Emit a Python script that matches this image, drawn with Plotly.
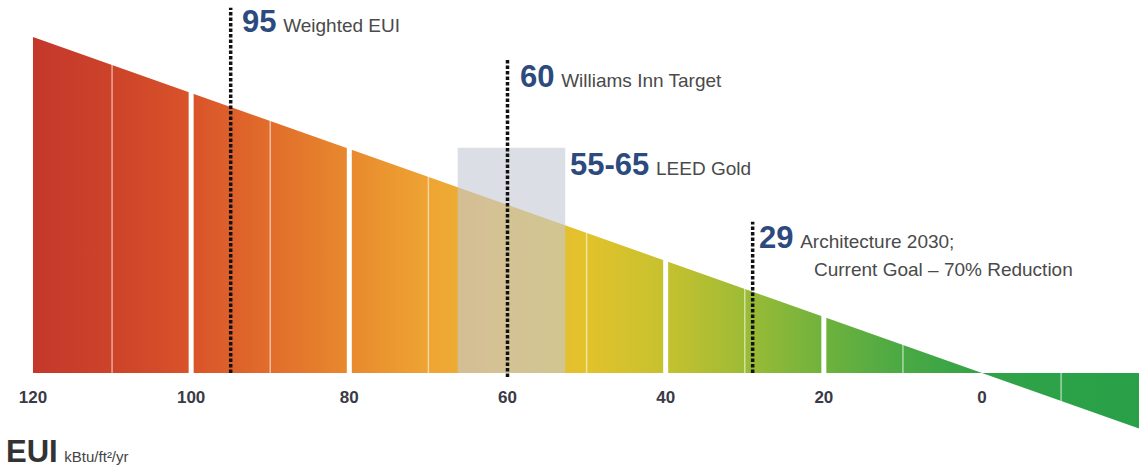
import plotly.graph_objects as go

# ---------------- data ----------------
scale_hi, scale_lo = 120, -20                 # extent of the EUI wedge
tick_values = [120, 100, 80, 60, 40, 20, 0]
tick_labels = ["120", "100", "80", "60", "40", "20", "0"]
major_breaks = [100, 80, 40, 20]              # wide white gaps
minor_breaks = [110, 90, 70, 50, 30, 10, -10]  # thin white lines

markers = [95, 60, 29]                        # dotted marker lines
marker_tops = [130.4, 111.8, 54.0]
marker_bottoms = [0, -1.5, 0]
marker_numbers = ["95", "60", "29"]
marker_texts = ["Weighted EUI", "Williams Inn Target", "Architecture 2030;"]

leed_range = [52.7, 66.3]                     # drawn band for "55-65 LEED Gold"
leed_top = 80.4

# gradient stops along the EUI axis (value, colour)
grad_vals = [120, 110, 100, 90, 80, 70, 60, 50, 40, 30, 20, 10, 0, -20]
grad_cols = ["#c4382b", "#cc4329", "#d9532a", "#e16d2b", "#e8892d", "#eea433",
             "#edb836", "#e2c22b", "#c6c12f", "#9dbb35", "#6fb23d", "#4aa944",
             "#31a347", "#28a048"]

NAVY = "#2c4a7e"
GREY = "#4a4a4a"
FONT = "Liberation Sans, Arial, sans-serif"

fig = go.Figure()

# wedge (y = EUI, so the sloped top edge is the line y = x)
span = scale_hi - scale_lo
colorscale = [[(scale_hi - v) / span, c] for v, c in zip(grad_vals, grad_cols)]
colorscale.sort(key=lambda p: p[0])
fig.add_trace(go.Scatter(
    x=[scale_hi, scale_hi, scale_lo, scale_lo, scale_hi],
    y=[0, scale_hi, scale_lo, 0, 0],
    mode="lines", line=dict(width=0), fill="toself",
    fillgradient=dict(type="horizontal", colorscale=colorscale,
                      start=scale_hi, stop=scale_lo),
    hoverinfo="skip", showlegend=False))

# white separators
for v in major_breaks:
    fig.add_trace(go.Scatter(x=[v, v], y=[min(0, v) - 0.5, v + 1.5], mode="lines",
                             line=dict(color="white", width=5),
                             hoverinfo="skip", showlegend=False))
for v in minor_breaks:
    fig.add_trace(go.Scatter(x=[v, v], y=[min(0, v) - 0.3, max(0, v) + 0.8], mode="lines",
                             line=dict(color="rgba(255,255,255,0.55)", width=1.5),
                             hoverinfo="skip", showlegend=False))

# LEED band
fig.add_trace(go.Scatter(
    x=[leed_range[0], leed_range[0], leed_range[1], leed_range[1], leed_range[0]],
    y=[0, leed_top, leed_top, 0, 0], mode="lines", line=dict(width=0),
    fill="toself", fillcolor="rgba(195,201,212,0.6)",
    hoverinfo="skip", showlegend=False))

# dotted marker lines
for v, t, b in zip(markers, marker_tops, marker_bottoms):
    fig.add_trace(go.Scatter(x=[v, v], y=[b, t], mode="lines",
                             line=dict(color="#111111", width=3.5, dash="3.5px,2px"),
                             hoverinfo="skip", showlegend=False))

# labels
def label(x, y, num, text, numsize=31, txtsize=19, gap="&nbsp;&nbsp;"):
    s = ""
    if num:
        s += f"<b><span style='font-size:{numsize}px;color:{NAVY}'>{num}</span></b>{gap}"
    s += f"<span style='font-size:{txtsize}px;color:{GREY}'>{text}</span>"
    fig.add_annotation(x=x, y=y, xref="x", yref="y", text=s, showarrow=False,
                       xanchor="left", yanchor="middle", font=dict(family=FONT))

label(93.8, 125.5, marker_numbers[0], marker_texts[0])
label(58.7, 106.0, marker_numbers[1], marker_texts[1])
label(52.4, 74.6, "55-65", "LEED Gold")
label(28.4, 48.2, marker_numbers[2], marker_texts[2])
label(21.5, 37.1, "", "Current Goal \u2013 70% Reduction")

# axis title
fig.add_annotation(x=4 / 1139, y=1 - 451 / 472, xref="paper", yref="paper",
                   xanchor="left", yanchor="middle", showarrow=False,
                   text=("<b><span style='font-size:31px;color:#333333'>EUI</span></b>&nbsp;&nbsp;"
                         "<span style='font-size:15px;color:#444444'>kBtu/ft\u00b2/yr</span>"),
                   font=dict(family=FONT))

fig.update_layout(
    width=1139, height=472, margin=dict(l=0, r=0, t=0, b=0),
    paper_bgcolor="white", plot_bgcolor="white",
    xaxis=dict(range=[124.17, -19.85], showgrid=False, zeroline=False,
               showline=False, ticks="", tickvals=tick_values, ticktext=tick_labels,
               tickfont=dict(family=FONT, size=17, color="#3a3a46", weight="bold"),
               anchor="free", position=1 - 385 / 472),
    yaxis=dict(range=[-35.4, 133.2], visible=False, showgrid=False, zeroline=False),
    showlegend=False,
)

fig.write_html("out.html")
